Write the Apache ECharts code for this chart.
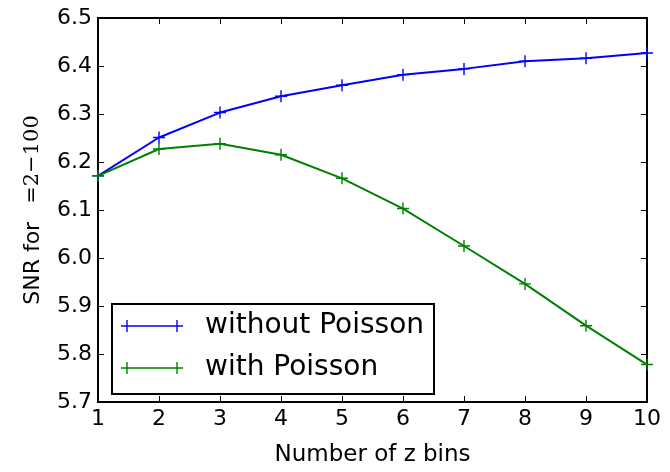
<!DOCTYPE html>
<html>
<head>
<meta charset="utf-8">
<script src="https://cdn.jsdelivr.net/npm/echarts@6/dist/echarts.min.js"></script>
<style>
  html, body { margin: 0; padding: 0; background: #fff; }
  #chart { width: 670px; height: 472px; }
</style>
</head>
<body>
<div id="chart"></div>
<script>
var zBins = [1, 2, 3, 4, 5, 6, 7, 8, 9, 10];
var withoutPoisson = [6.171, 6.251, 6.303, 6.337, 6.360, 6.382, 6.394, 6.410, 6.416, 6.427];
var withPoisson = [6.171, 6.227, 6.238, 6.215, 6.166, 6.103, 6.025, 5.946, 5.859, 5.778];

var plusSymbol = "path://M5.3,0h1.4v12h-1.4zM0,5.3h12v1.4h-12z";
var legendIcon = "path://M0,5.2h62v1.6h-62zM5.3,0h1.4v12h-1.4zM55.3,0h1.4v12h-1.4z";
var font = "DejaVu Sans";

function pairs(xs, ys) {
  return xs.map(function (x, i) { return [x, ys[i]]; });
}

var myChart = echarts.init(document.getElementById("chart"));

var frameAxis = {
  axisLine: { show: true, onZero: false, lineStyle: { color: "#000", width: 2 } },
  axisTick: { show: true, inside: true, length: 6, lineStyle: { color: "#000", width: 1 } },
  splitLine: { show: false },
};

var option = {
  animation: false,
  backgroundColor: "#fff",
  textStyle: { fontFamily: font },
  grid: { left: 98, right: 23, top: 18, bottom: 64 },
  legend: {
    left: 112,
    top: 304,
    orient: "vertical",
    icon: legendIcon,
    itemWidth: 62,
    itemHeight: 12,
    itemGap: 12,
    padding: [7, 10, 11, 9],
    borderColor: "#000",
    borderWidth: 2,
    borderRadius: 0,
    textStyle: { fontFamily: font, fontSize: 28, color: "#000", lineHeight: 30, padding: [0, 0, 0, 17] },
    data: ["without Poisson", "with Poisson"],
  },
  xAxis: [
    Object.assign({}, frameAxis, {
      type: "value",
      min: 1,
      max: 10,
      interval: 1,
      name: "Number of z bins",
      nameLocation: "middle",
      nameGap: 42,
      nameTextStyle: { fontFamily: font, fontSize: 23, color: "#000" },
      axisLabel: { color: "#000", fontSize: 22, margin: 6, fontFamily: font },
    }),
    Object.assign({}, frameAxis, {
      type: "value",
      position: "top",
      min: 1,
      max: 10,
      interval: 1,
      axisLabel: { show: false },
    }),
  ],
  yAxis: [
    Object.assign({}, frameAxis, {
      type: "value",
      min: 5.7,
      max: 6.5,
      interval: 0.1,
      name: "{a|SNR for}{b|=2−100}",
      nameLocation: "middle",
      nameGap: 54,
      nameTextStyle: {
        color: "#000",
        rich: {
          a: { fontFamily: font, fontSize: 22, color: "#000" },
          b: { fontFamily: "DejaVu Serif", fontSize: 21, color: "#000", padding: [0, 0, 0, 18] },
        },
      },
      axisLabel: {
        color: "#000",
        fontSize: 22,
        margin: 6,
        fontFamily: font,
        formatter: function (v) { return v.toFixed(1); },
      },
    }),
    Object.assign({}, frameAxis, {
      type: "value",
      position: "right",
      min: 5.7,
      max: 6.5,
      interval: 0.1,
      axisLabel: { show: false },
    }),
  ],
  series: [
    {
      name: "without Poisson",
      type: "line",
      data: pairs(zBins, withoutPoisson),
      symbol: plusSymbol,
      symbolSize: 12,
      clip: false,
      lineStyle: { color: "#0000ff", width: 2 },
      itemStyle: { color: "#0000ff", borderWidth: 0 },
    },
    {
      name: "with Poisson",
      type: "line",
      data: pairs(zBins, withPoisson),
      symbol: plusSymbol,
      symbolSize: 12,
      clip: false,
      lineStyle: { color: "#008000", width: 2 },
      itemStyle: { color: "#008000", borderWidth: 0 },
    },
  ],
};

myChart.setOption(option);
</script>
</body>
</html>
